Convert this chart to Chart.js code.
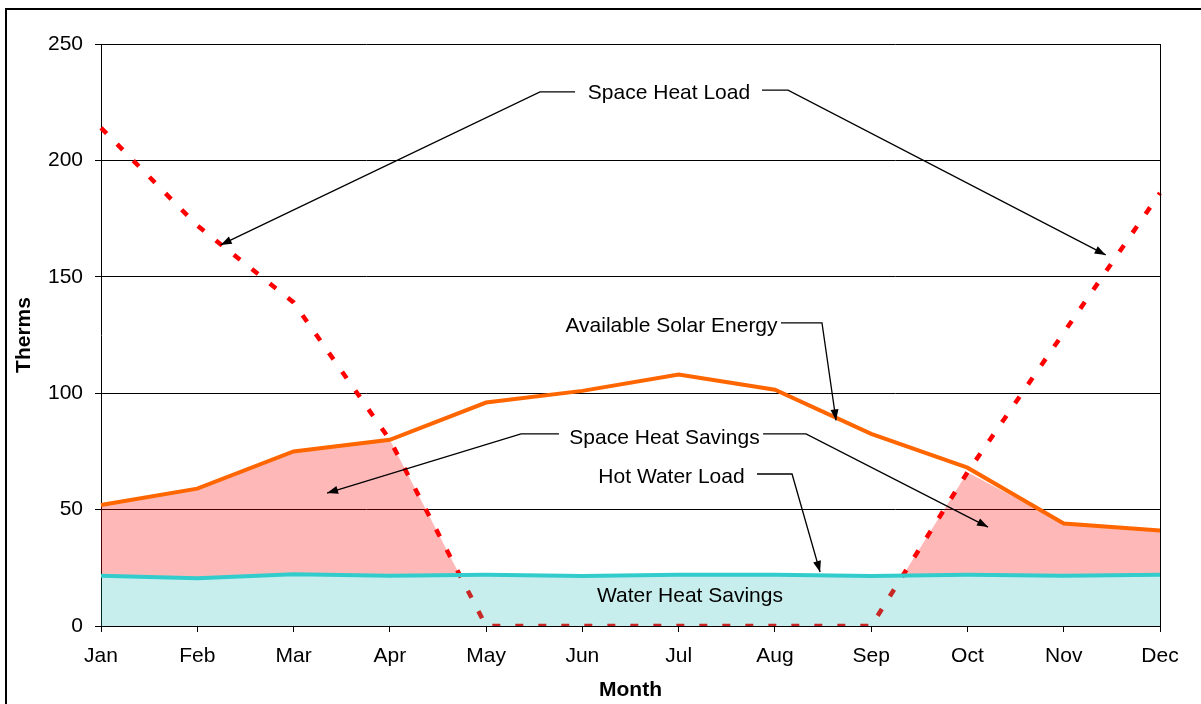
<!DOCTYPE html>
<html>
<head>
<meta charset="utf-8">
<script src="https://cdn.jsdelivr.net/npm/chart.js@4/dist/chart.umd.min.js"></script>
<style>
  html, body { margin: 0; padding: 0; background: #fff; }
  canvas { display: block; }
</style>
</head>
<body>
<canvas id="thermChart" width="1201" height="704"></canvas>
<script>
// Values (therms per month)
const months = ["Jan", "Feb", "Mar", "Apr", "May", "Jun", "Jul", "Aug", "Sep", "Oct", "Nov", "Dec"];
const spaceHeatLoad = [214, 172, 139, 80, 0, 0, 0, 0, 0, 66, 126, 186];
const solarEnergy = [52, 59, 75, 80, 96, 101, 108, 101.5, 82.5, 68, 44, 41];
const hotWaterLoad = [21.6, 20.5, 22.2, 21.6, 22, 21.5, 22, 22, 21.5, 22, 21.6, 22];
// top edge of the pink savings area (the lower of solar energy and space heat load)
const spaceSavingsTop = [52, 59, 75, 80, 0, 0, 0, 0, 0, 66, 44, 41];
const yTicks = [0, 50, 100, 150, 200, 250];

const FONT = "'Liberation Sans', Arial, sans-serif";

// callout labels, placed in data units: [month index, therms]
const notes = [
    { text: "Space Heat Load", at: [5.90, 228.8],
      paths: [[[4.924, 229.4], [4.56, 229.4], [1.243, 163.7]],
              [[6.866, 230.2], [7.136, 230.2], [10.436, 159.4]]] },
    { text: "Available Solar Energy", at: [5.926, 128.9],
      paths: [[[7.063, 130.2], [7.489, 130.2], [7.635, 88.3]]] },
    { text: "Space Heat Savings", at: [5.853, 80.8],
      paths: [[[4.757, 82.5], [4.363, 82.5], [2.348, 57.1]],
              [[6.877, 82.5], [7.323, 82.5], [9.214, 42.5]]] },
    { text: "Hot Water Load", at: [5.926, 64.0],
      paths: [[[6.814, 65.3], [7.178, 65.3], [7.469, 23.2]]] },
    { text: "Water Heat Savings", at: [6.118, 12.9], paths: [] },
];

// frame, right border of the plot and the callouts
const extras = {
    id: "extras",
    afterDatasetsDraw(chart) {
        const { ctx, chartArea, scales } = chart;
        const px = (p) => [scales.x.getPixelForValue(p[0]), scales.y.getPixelForValue(p[1])];
        ctx.save();

        // right edge of the plot area
        ctx.strokeStyle = "#000";
        ctx.lineWidth = 1;
        const rx = Math.round(chartArea.right) + 0.5;
        ctx.beginPath();
        ctx.moveTo(rx, chartArea.top);
        ctx.lineTo(rx, chartArea.bottom);
        ctx.stroke();

        ctx.font = "21px " + FONT;
        ctx.fillStyle = "#000";
        ctx.textAlign = "center";
        ctx.textBaseline = "middle";
        ctx.lineWidth = 1.3;
        notes.forEach((n) => {
            const [tx, ty] = px(n.at);
            ctx.fillText(n.text, tx, ty);
            n.paths.forEach((path) => {
                const pts = path.map(px);
                ctx.beginPath();
                ctx.moveTo(pts[0][0], pts[0][1]);
                for (let i = 1; i < pts.length; i++) ctx.lineTo(pts[i][0], pts[i][1]);
                ctx.stroke();
                // arrow head
                const [x1, y1] = pts[pts.length - 2];
                const [x2, y2] = pts[pts.length - 1];
                const a = Math.atan2(y2 - y1, x2 - x1);
                const len = 11, half = 4;
                ctx.beginPath();
                ctx.moveTo(x2, y2);
                ctx.lineTo(x2 - len * Math.cos(a) + half * Math.sin(a), y2 - len * Math.sin(a) - half * Math.cos(a));
                ctx.lineTo(x2 - len * Math.cos(a) - half * Math.sin(a), y2 - len * Math.sin(a) + half * Math.cos(a));
                ctx.closePath();
                ctx.fill();
            });
        });
        ctx.restore();
    },
    afterDraw(chart) {
        const ctx = chart.ctx;
        ctx.save();
        ctx.fillStyle = "#000";
        ctx.fillRect(5, 8, 2, chart.height);
        ctx.fillRect(5, 8, chart.width, 2);
        ctx.restore();
    },
};

const tickFont = { family: FONT, size: 21 };
const titleFont = { family: FONT, size: 21, weight: "bold" };

new Chart(document.getElementById("thermChart"), {
    type: "line",
    data: {
        labels: months,
        datasets: [
            {
                label: "Space Heat Savings",
                data: spaceSavingsTop,
                borderWidth: 0,
                pointRadius: 0,
                fill: { target: 1, above: "rgba(255, 0, 0, 0.28)", below: "rgba(0, 0, 0, 0)" },
                order: 5,
            },
            {
                label: "Hot Water Load",
                data: hotWaterLoad,
                borderColor: "#33CCCC",
                borderWidth: 4,
                pointRadius: 0,
                fill: { target: "origin", above: "rgba(0, 178, 170, 0.22)" },
                order: 3,
            },
            {
                label: "Available Solar Energy",
                data: solarEnergy,
                borderColor: "#FF6600",
                borderWidth: 4,
                pointRadius: 0,
                fill: false,
                order: 2,
            },
            {
                label: "Space Heat Load",
                data: spaceHeatLoad,
                borderColor: "#FF0000",
                borderWidth: 4.5,
                borderDash: [8, 15],
                borderCapStyle: "butt",
                pointRadius: 0,
                fill: false,
                clip: { left: 5, top: 5, right: 5, bottom: 0 },
                order: 4,
            },
        ],
    },
    options: {
        responsive: false,
        animation: false,
        devicePixelRatio: 1,
        layout: { padding: { left: 0, top: 44, right: 41, bottom: 0 } },
        plugins: {
            legend: { display: false },
            tooltip: { enabled: false },
        },
        elements: { line: { tension: 0 } },
        scales: {
            x: {
                offset: false,
                grid: { drawOnChartArea: false, color: "#000", tickLength: 6 },
                border: { color: "#000", width: 1 },
                ticks: { color: "#000", font: tickFont, padding: 12, maxRotation: 0, autoSkip: false },
                title: { display: true, text: "Month", color: "#000", font: titleFont, padding: { top: 0, bottom: 1 } },
                afterFit: (s) => { s.height = 78; },
            },
            y: {
                min: 0,
                max: 250,
                afterBuildTicks: (s) => { s.ticks = yTicks.map((v) => ({ value: v })); },
                grid: { color: "#000", tickLength: 6 },
                border: { color: "#000", width: 1 },
                ticks: { color: "#000", font: tickFont, padding: 12 },
                title: { display: true, text: "Therms", color: "#000", font: titleFont, padding: { top: 12, bottom: 0 } },
                afterFit: (s) => { s.width = 101; },
            },
        },
    },
    plugins: [extras],
});
</script>
</body>
</html>
